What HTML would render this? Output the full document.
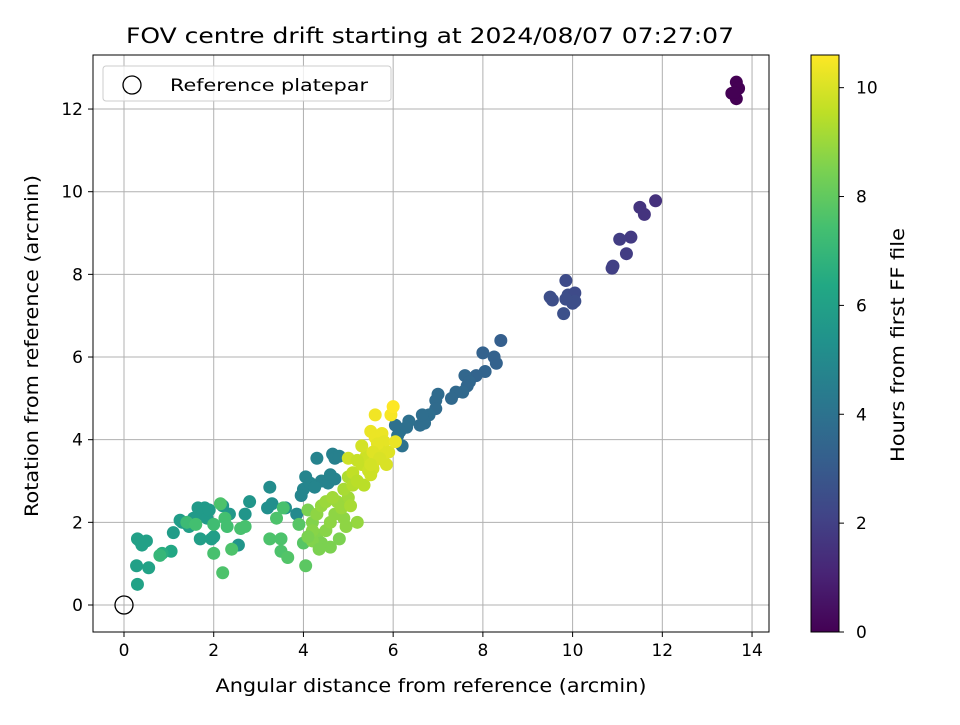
<!DOCTYPE html>
<html><head><meta charset="utf-8"><style>
body{margin:0;background:#fff;font-family:"Liberation Sans","DejaVu Sans",sans-serif;}
svg text{font-family:"DejaVu Sans","Liberation Sans",sans-serif;}
</style></head><body>
<svg id="chart" width="960" height="720" xmlns="http://www.w3.org/2000/svg">
<defs><linearGradient id="vir" x1="0" y1="1" x2="0" y2="0">
<stop offset="0" stop-color="#440154"/><stop offset="0.1" stop-color="#482475"/><stop offset="0.2" stop-color="#414487"/><stop offset="0.3" stop-color="#355f8d"/><stop offset="0.4" stop-color="#2a788e"/><stop offset="0.5" stop-color="#21918c"/><stop offset="0.6" stop-color="#22a884"/><stop offset="0.7" stop-color="#44bf70"/><stop offset="0.8" stop-color="#7ad151"/><stop offset="0.9" stop-color="#bddf26"/><stop offset="1" stop-color="#fde725"/></linearGradient></defs>
<text x="430" y="43" text-anchor="middle" font-size="21" textLength="608" lengthAdjust="spacingAndGlyphs">FOV centre drift starting at 2024/08/07 07:27:07</text>
<g id="grid"></g><g id="pts"></g><g id="axes"></g>
</svg>
<script>
const xs=[13.55,13.65,13.7,13.65,13.6,11.85,11.5,11.6,11.3,11.05,11.2,10.9,10.88,9.5,9.55,9.85,9.8,9.9,10.05,10.0,10.05,9.85,8.4,8.0,8.25,8.3,8.05,7.85,7.6,7.7,7.65,7.55,7.4,7.3,7.0,6.95,6.95,6.8,6.7,6.6,6.65,6.35,6.3,6.15,6.2,6.05,6.1,4.3,4.65,4.7,4.8,4.4,4.55,4.6,4.0,3.95,4.05,4.15,4.25,4.7,3.85,3.6,3.25,3.2,3.3,2.8,2.7,2.35,2.2,1.8,1.65,1.75,1.55,1.85,1.9,1.3,1.25,1.1,1.45,1.7,1.95,2.0,2.55,0.35,0.3,0.5,0.4,0.55,0.28,0.3,1.05,0.85,0.8,1.4,2.0,2.25,2.3,2.0,2.2,2.4,2.6,2.7,3.55,3.4,3.25,3.5,3.5,3.65,4.0,4.05,3.9,2.15,1.6,4.1,4.2,4.3,4.4,4.6,4.2,4.5,4.7,4.8,4.9,5.0,5.2,4.3,4.4,4.6,4.75,4.9,5.0,4.2,4.5,4.65,4.85,5.1,5.05,4.95,4.35,4.1,5.0,5.1,5.2,5.3,5.4,5.2,5.45,5.55,5.6,5.3,5.35,5.5,5.6,5.95,6.0,5.5,5.6,5.75,5.8,5.9,6.05,5.85,5.7,5.65,5.55,5.7,5.5];
const ys=[12.38,12.65,12.5,12.25,12.4,9.78,9.62,9.45,8.9,8.85,8.5,8.2,8.15,7.45,7.38,7.85,7.05,7.5,7.55,7.3,7.35,7.4,6.4,6.1,6.0,5.85,5.65,5.55,5.55,5.4,5.3,5.15,5.15,5.0,5.1,4.95,4.75,4.6,4.4,4.35,4.6,4.45,4.3,4.2,3.85,4.35,4.1,3.55,3.65,3.55,3.6,3.0,2.95,3.15,2.8,2.65,3.1,2.95,2.85,3.05,2.2,2.35,2.85,2.35,2.45,2.5,2.2,2.2,2.4,2.35,2.35,2.2,2.1,2.1,2.3,2.0,2.05,1.75,1.9,1.6,1.6,1.65,1.45,1.55,1.6,1.55,1.45,0.9,0.95,0.5,1.3,1.25,1.2,2.0,1.95,2.1,1.9,1.25,0.78,1.35,1.85,1.9,2.35,2.1,1.6,1.6,1.3,1.15,1.5,0.95,1.95,2.45,1.95,2.3,2.0,1.7,1.5,1.4,1.55,1.8,2.2,1.6,2.1,2.6,2.0,2.2,2.4,2.0,2.5,2.8,3.1,1.8,2.5,2.6,2.35,2.9,2.4,1.9,1.35,1.65,3.55,3.2,3.0,3.4,3.6,3.5,3.25,3.3,3.5,3.85,2.9,3.15,4.6,4.6,4.8,4.2,4.05,4.15,3.95,3.7,3.95,3.4,3.75,3.9,3.7,3.55,3.4];
const hours=[0,0,0,0,0,1.5,1.6,1.6,1.8,1.9,1.9,2.0,2.0,2.5,2.5,2.4,2.6,2.5,2.4,2.5,2.5,2.5,3.2,3.3,3.3,3.3,3.4,3.4,3.5,3.5,3.5,3.6,3.6,3.6,3.7,3.7,3.7,3.8,3.8,3.8,3.8,3.9,3.9,3.9,4.0,3.9,4.0,4.7,4.6,4.6,4.6,4.7,4.7,4.7,4.8,4.8,4.8,4.8,4.8,4.7,5.0,5.2,5.1,5.2,5.2,5.5,5.5,5.6,5.6,5.7,5.7,5.7,5.7,5.7,5.7,5.8,5.8,5.8,5.9,5.9,5.9,5.9,5.5,6.0,6.0,6.0,6.0,6.1,6.0,6.1,6.3,6.6,7.0,7.2,7.3,7.4,7.4,7.5,7.6,7.6,7.5,7.5,7.5,7.6,7.6,7.6,7.6,7.7,7.8,7.9,7.8,7.6,7.4,8.5,8.6,8.6,8.5,8.5,8.6,8.7,8.8,8.5,8.8,9.1,8.9,8.8,8.9,8.8,9.0,9.2,9.3,8.7,9.0,9.1,9.0,9.4,9.2,8.8,8.5,8.5,9.8,9.6,9.5,9.7,9.8,9.7,9.8,9.9,10.0,9.9,9.5,9.8,10.4,10.5,10.6,10.3,10.3,10.3,10.2,10.1,10.3,10.0,10.1,10.2,10.1,10.0,9.9];
const xTicks=[0,2,4,6,8,10,12,14], yTicks=[0,2,4,6,8,10,12], cTicks=[0,2,4,6,8,10];
const L=93,R=769,T=55,B=632;
const sx=v=>124+v*44.86, sy=v=>605-v*41.33;
const CMAX=10.6, cy=v=>632-v*(577/CMAX);
const stops=["#440154","#482475","#414487","#355f8d","#2a788e","#21918c","#22a884","#44bf70","#7ad151","#bddf26","#fde725"].map(h=>[1,3,5].map(i=>parseInt(h.substr(i,2),16)));
function vir(h){let t=Math.max(0,Math.min(1,h/CMAX))*10;let i=Math.min(9,Math.floor(t)),f=t-i;const a=stops[i],b=stops[i+1];return "rgb("+a.map((c,k)=>Math.round(c+(b[k]-c)*f)).join(",")+")";}
const NS="http://www.w3.org/2000/svg";
function mk(tag,attrs,parent,txt){const e=document.createElementNS(NS,tag);for(const k in attrs)e.setAttribute(k,attrs[k]);if(txt!==undefined)e.textContent=txt;parent.appendChild(e);return e;}
const grid=document.getElementById('grid'),pts=document.getElementById('pts'),axes=document.getElementById('axes');
const FS=17;
xTicks.forEach(t=>{const x=sx(t);
 const g=mk('line',{x1:x,x2:x,y1:T,y2:B,stroke:'#b0b0b0','stroke-width':1},grid);
 
 
 mk('line',{x1:x,x2:x,y1:B,y2:B+5,stroke:'#000'},axes);
 const l=mk('text',{x:x,y:B+24,'text-anchor':'middle','font-size':FS},axes,String(t));
 
 });
yTicks.forEach(t=>{const y=sy(t);
 const g=mk('line',{x1:L,x2:R,y1:y,y2:y,stroke:'#b0b0b0','stroke-width':1},grid);
 
 
 mk('line',{x1:L-5,x2:L,y1:y,y2:y,stroke:'#000'},axes);
 const l=mk('text',{x:L-10,y:y+6,'text-anchor':'end','font-size':FS},axes,String(t));
 
 });
xs.forEach((v,i)=>{const c=mk('circle',{cx:sx(v),cy:sy(ys[i]),r:6.5,fill:vir(hours[i])},pts);
 
 });
const ref=mk('circle',{cx:sx(0),cy:sy(0),r:9,fill:'none',stroke:'#000','stroke-width':1.3},pts);


const fr=mk('rect',{x:L,y:T,width:R-L,height:B-T,fill:'none',stroke:'#000','stroke-width':1},axes);


const xt=mk('text',{x:431,y:692,'text-anchor':'middle','font-size':19,textLength:431,lengthAdjust:'spacingAndGlyphs'},axes,'Angular distance from reference (arcmin)');


const yt=mk('text',{x:0,y:0,'text-anchor':'middle','font-size':19,textLength:342,lengthAdjust:'spacingAndGlyphs',transform:'translate(38,346) rotate(-90)'},axes,'Rotation from reference (arcmin)');


const lg=mk('g',{},axes);


mk('rect',{x:103,y:66,width:288,height:35,rx:3,fill:'#fff','fill-opacity':0.8,stroke:'#ccc'},lg);
mk('circle',{cx:132,cy:85,r:9,fill:'none',stroke:'#000','stroke-width':1.3},lg);
mk('text',{x:170,y:91,'font-size':FS,textLength:198,lengthAdjust:'spacingAndGlyphs'},lg,'Reference platepar');
const cb=mk('rect',{x:811,y:T,width:28,height:B-T,fill:'url(#vir)',stroke:'#000','stroke-width':1},axes);


cTicks.forEach(t=>{const y=cy(t);
 mk('line',{x1:839,x2:844,y1:y,y2:y,stroke:'#000'},axes);
 const l=mk('text',{x:856,y:y+6,'font-size':FS},axes,String(t));
 
 });
const ct=mk('text',{x:0,y:0,'text-anchor':'middle','font-size':19,textLength:234,lengthAdjust:'spacingAndGlyphs',transform:'translate(904,345) rotate(-90)'},axes,'Hours from first FF file');


</script>
</body></html>
